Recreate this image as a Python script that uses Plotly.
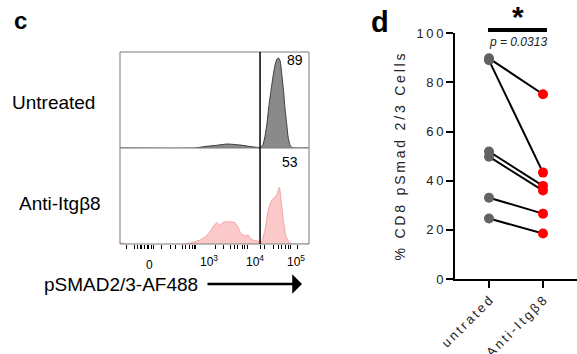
import plotly.graph_objects as go

# ---------------- data ----------------
# histogram panel (x in display channels 0-1000, y in % of untreated mode)
untreated_x = [0, 397, 450, 503, 566, 635, 688, 730, 746, 757, 767, 778, 788, 799, 810, 820,
               831, 839, 847, 857, 865, 873, 882, 889, 900, 910, 926, 1000]
untreated_y = [0, 0, 1.7, 2.8, 4.4, 3.3, 1.7, 0.6, 1, 4, 13, 28, 47, 64, 80, 92,
               99, 100, 97, 80, 64, 44, 27, 13, 3, 0.5, 0, 0]
anti_x = [0, 16, 32, 344, 423, 450, 476, 492, 512, 529, 545, 565, 587, 608, 624, 635, 651,
          661, 679, 688, 705, 732, 750, 759, 767, 785, 803, 829, 843, 853, 864, 878, 899, 915, 1000]
anti_y = [1.1, 1.1, 0, 0, 4.4, 7.8, 13.7, 19, 23.7, 21, 24, 24.8, 24.4, 23.7, 19, 13.7, 10,
          8.9, 10, 6.7, 4.4, 3, 2.6, 8.9, 15.6, 37.8, 48.9, 54.4, 63, 46.7, 26.7, 8.1, 1.4, 0, 0]
gate_x = 741
gate_pct = ["89", "53"]
row_labels = ["Untreated", "Anti-Itgβ8"]
tick_channels = [32, 79, 90, 106, 116, 132, 143, 153, 164, 175, 217, 265, 296, 333, 349, 370,
                 381, 392, 402, 503, 545, 582, 608, 624, 646, 661, 677, 741, 767, 810, 836,
                 857, 873, 889, 900, 937]
decade_labels = ["0", "10<sup>3</sup>", "10<sup>4</sup>", "10<sup>5</sup>"]

# paired dot plot
groups = ["untrated", "Anti-Itgβ8"]
untreated_vals = [89.8, 89.0, 51.9, 49.8, 33.1, 24.6]
anti_vals = [75.2, 43.3, 37.9, 36.0, 26.6, 18.5]
p_text = "p = 0.0313"

W, H = 577, 354
def px(x): return x / W
def py(y): return 1 - y / H
TS = "\u2009"
def spaced(s): return TS.join(s)

FONT = "Liberation Sans, Arial, Helvetica, sans-serif"

fig = go.Figure()

# ---- histograms ----
fig.add_trace(go.Scatter(x=untreated_x, y=untreated_y, mode="lines", fill="tozeroy",
                         line=dict(color="#3a3a3a", width=1, shape="spline", smoothing=0.5),
                         fillcolor="#8a8a8a", xaxis="x", yaxis="y", showlegend=False))
fig.add_trace(go.Scatter(x=anti_x, y=anti_y, mode="lines", fill="tozeroy",
                         line=dict(color="#f4a3a3", width=1, shape="spline", smoothing=0.5),
                         fillcolor="#fbc9c9", xaxis="x2", yaxis="y2", showlegend=False))

# ---- paired dots ----
for u, a in zip(untreated_vals, anti_vals):
    fig.add_trace(go.Scatter(x=[0, 1], y=[u, a], mode="lines",
                             line=dict(color="black", width=2),
                             xaxis="x3", yaxis="y3", showlegend=False))
fig.add_trace(go.Scatter(x=[0] * len(untreated_vals), y=untreated_vals, mode="markers",
                         marker=dict(color="#626262", size=10),
                         xaxis="x3", yaxis="y3", showlegend=False))
fig.add_trace(go.Scatter(x=[1] * len(anti_vals), y=anti_vals, mode="markers",
                         marker=dict(color="#ff0000", size=10),
                         xaxis="x3", yaxis="y3", showlegend=False))

L, R = px(120), px(309)
TOP, MID, BOT = py(52), py(148), py(244)
hidden = dict(showgrid=False, zeroline=False, showline=False, showticklabels=False, ticks="",
              automargin=False)

fig.update_layout(
    width=W, height=H, margin=dict(l=0, r=0, t=0, b=0, pad=0, autoexpand=False),
    paper_bgcolor="white", plot_bgcolor="rgba(0,0,0,0)", showlegend=False,
    font=dict(family=FONT, color="black"),
    xaxis=dict(domain=[L, R], range=[0, 1000], anchor="y", **hidden),
    yaxis=dict(domain=[MID, TOP], range=[0, 106.7], anchor="x", **hidden),
    xaxis2=dict(domain=[L, R], range=[0, 1000], anchor="y2", showgrid=False, zeroline=False,
                showline=False, showticklabels=False, ticks="outside", tickvals=tick_channels,
                ticklen=4, tickwidth=1, tickcolor="black", automargin=False),
    yaxis2=dict(domain=[BOT, MID], range=[0, 106.7], anchor="x2", **hidden),
    xaxis3=dict(domain=[px(455), 1.0], range=[-0.63, 1.63], anchor="y3",
                tickvals=[0, 1], ticktext=[spaced(g) for g in groups], tickangle=-45,
                ticks="outside", ticklen=7, tickwidth=2, tickcolor="black",
                showline=True, linewidth=2, linecolor="black", showgrid=False, zeroline=False,
                tickfont=dict(size=13, color="#222"), automargin=False),
    yaxis3=dict(domain=[py(279), py(33.3)], range=[0, 100], anchor="x3",
                tickvals=[0, 20, 40, 60, 80, 100],
                ticktext=[spaced(str(v)) for v in [0, 20, 40, 60, 80, 100]],
                ticks="outside", ticklen=7, tickwidth=2, tickcolor="black",
                showline=True, linewidth=2, linecolor="black", showgrid=False, zeroline=False,
                tickfont=dict(size=13, color="#222"), automargin=False),
)

shapes = [
    dict(type="rect", xref="paper", yref="paper", x0=L, x1=R, y0=BOT, y1=TOP,
         line=dict(color="#7a7a7a", width=1)),
    dict(type="line", xref="paper", yref="paper", x0=L, x1=R, y0=MID, y1=MID,
         line=dict(color="#7a7a7a", width=1)),
    dict(type="line", xref="x2", yref="paper", x0=gate_x, x1=gate_x, y0=BOT, y1=TOP,
         line=dict(color="black", width=1.5)),
    dict(type="line", xref="paper", yref="paper", x0=px(488), x1=px(547), y0=py(30), y1=py(30),
         line=dict(color="black", width=4)),
]
fig.update_layout(shapes=shapes)

ann = []
def A(text, x, y, size, **kw):
    d = dict(text=text, x=px(x), y=py(y), xref="paper", yref="paper", showarrow=False,
             font=dict(size=size, family=FONT, color=kw.pop("color", "black")),
             xanchor=kw.pop("xanchor", "center"), yanchor=kw.pop("yanchor", "middle"))
    d.update(kw)
    ann.append(d)

A("<b>c</b>", 20, 21, 24)
A("<b>d</b>", 380, 22, 29)
A(row_labels[0], 53.5, 102, 19)
A(row_labels[1], 59.5, 203, 19)
A(gate_pct[0], 295, 60, 14)
A(gate_pct[1], 290, 162, 14)
A(decade_labels[0], 149, 265, 12)
A(decade_labels[1], 209, 261, 12)
A(decade_labels[2], 255, 261, 12)
A(decade_labels[3], 296, 261, 12)
A("pSMAD2/3-AF488", 121, 284, 19)
A(spaced("% CD8 pSmad 2/3 Cells"), 400, 157.5, 14, textangle=-90, color="#222")
A("<b>*</b>", 518, 16, 30)
A("<i>" + p_text + "</i>", 518, 42, 12, color="#222")
ann.append(dict(text="", x=px(302), y=py(284), xref="paper", yref="paper", showarrow=True,
                ax=-96, ay=0, arrowhead=1, arrowsize=1.3, arrowwidth=2.5, arrowcolor="black",
                standoff=0))
fig.update_layout(annotations=ann)

fig.write_html("out.html", config={"displayModeBar": False},
               post_script="document.body.style.margin='0';document.body.style.overflow='hidden';")
